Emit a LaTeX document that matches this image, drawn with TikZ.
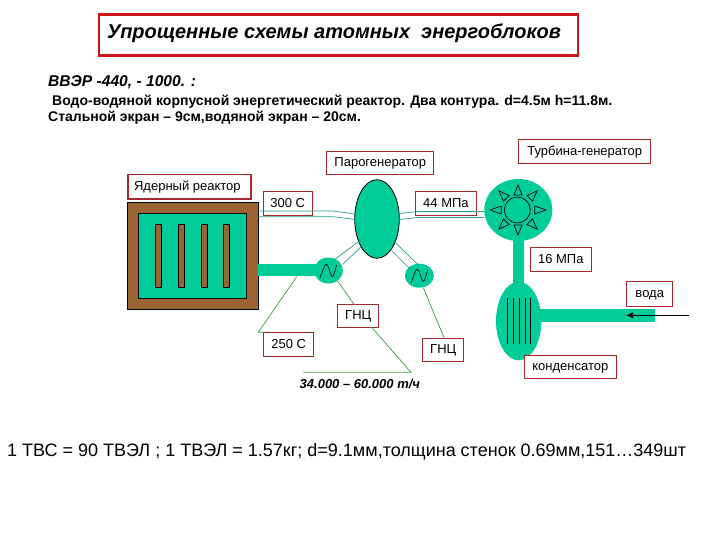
\documentclass[tikz,border=0pt]{standalone}
\usepackage{fontspec}
\setmainfont{Liberation Sans}
\usetikzlibrary{arrows.meta,calc,shapes.geometric}
\definecolor{teal1}{HTML}{00CC99}
\definecolor{brn}{HTML}{996633}
\definecolor{boxred}{HTML}{A5282C}
\definecolor{titlered}{HTML}{CC1518}
\definecolor{pipeline}{HTML}{2E9C90}
\definecolor{grn}{HTML}{3C9A3C}
\tikzset{
 lbl/.style={draw=boxred,line width=0.9pt,fill=white,inner sep=0pt,text height=9.5pt,text depth=2.5pt,font=\fontsize{13}{15}\selectfont},
 body/.style={draw=black,line width=0.8pt,fill=teal1},
 blob/.style={fill=teal1,draw=none},
 rod/.style={draw=black,line width=0.7pt,fill=brn},
 thin pipe/.style={draw=pipeline,line width=0.7pt},
 lead/.style={draw=grn,line width=0.7pt},
 blade/.style={draw=black,line width=0.7pt},
 plain/.style={inner sep=0pt,anchor=west}
}
\newcommand{\boxat}[6]{\node[lbl,minimum width=#4 pt-#2 pt,minimum height=#5 pt-#3 pt,anchor=north west] (#1) at (#2,#3) {#6};}
\begin{document}
\begin{tikzpicture}[x=1pt,y=-1pt]
\useasboundingbox (0,0) rectangle (720,540);
% title
\node[draw=titlered,line width=2.2pt,minimum width=479pt,minimum height=41pt,inner sep=0pt,anchor=north west] (title) at (98,13.5) {};
\node[plain,font=\fontsize{20}{23}\selectfont\bfseries\itshape] (titletext) at (107,33) {Упрощенные схемы атомных \ энергоблоков};
\node[plain,font=\fontsize{15.6}{18}\selectfont\bfseries\itshape] (t1) at (48,82.5) {ВВЭР -440, - 1000. :};
\node[plain,font=\fontsize{14}{16}\selectfont\bfseries] (t2) at (52,101.5) {Водо-водяной корпусной энергетический реактор. Два контура. d=4.5м h=11.8м.};
\node[plain,font=\fontsize{14}{16}\selectfont\bfseries] (t3) at (48,118) {Стальной экран – 9см,водяной экран – 20см.};
% labels
\boxat{l300}{262.7}{191.3}{311.7}{215.3}{300 C}
\boxat{l44}{415.3}{191.3}{475.7}{215.3}{44 МПа}
\boxat{lpg}{326.3}{150.7}{433.3}{174.3}{Парогенератор}
\boxat{ltg}{518.3}{139.3}{650.3}{163.3}{Турбина-генератор}
\node[lbl,line width=1.5pt,minimum width=122.7pt,minimum height=24.6pt,anchor=north west] (lyr) at (127.3,173.7) {Ядерный реактор\hspace*{4pt}};
% reactor
\draw[draw=black,line width=0.8pt,fill=brn] (127.3,202) rectangle (258,309);
\draw[body] (138.3,213.3) rectangle (246.7,298.3);
\draw[rod] (155.3,224.3) rectangle (161.7,287.3);
\draw[rod] (178.3,224.3) rectangle (184.7,287.3);
\draw[rod] (201.3,224.3) rectangle (207.7,287.3);
\draw[rod] (223.3,224.3) rectangle (229.7,287.3);
% pipes and vessels
\node[blob,minimum width=59pt,minimum height=12pt,inner sep=0pt,anchor=west] (hot) at (258,270) {};
\node[blob,ellipse,minimum width=29pt,minimum height=26pt,inner sep=0pt] (p1) at (328.5,270.5) {};
\node[blob,ellipse,minimum width=29pt,minimum height=24pt,inner sep=0pt] (p2) at (419.3,275.7) {};
\fill[teal1] (513.3,235) rectangle (524.3,290);
\fill[teal1] (518.3,210) ellipse (34 and 31);
\fill[teal1] (518.7,321) ellipse (22.7 and 39.3);
\fill[teal1] (535,309) rectangle (655,321.7);
\draw[body] (377,219) ellipse (22.3 and 39.3);
% steam lines
\coordinate (rA) at (258,211); \coordinate (rB) at (258,216.7);
\coordinate (sgA) at (355,214); \coordinate (sgB) at (355,219.5);
\coordinate (sgC) at (399,213.5); \coordinate (sgD) at (399,219.5);
\coordinate (tA) at (484,211.5); \coordinate (tB) at (484,217.5);
\draw[thin pipe] (rA) -- (333,211) -- (sgA);
\draw[thin pipe] (rB) -- (333,216.7) -- (sgB);
\draw[thin pipe] (sgC) -- (418,211.5) -- (tA);
\draw[thin pipe] (sgD) -- (418,217.5) -- (tB);
\draw[thin pipe] (360.7,240) -- (335,259.3);
\draw[thin pipe] (360.7,247.3) -- (342.7,264.3);
\draw[thin pipe] (391.7,250.7) -- (411,270);
\draw[thin pipe] (396,243.3) -- (418.3,265);
% pumps' sine
\draw[black,line width=0.6pt,line join=round] (320,277.7) -- (324.5,266) .. controls (325.5,263.5) and (327,263.5) .. (328,266) -- (331,275) .. controls (331.8,277) and (332.8,277) .. (333.6,275) -- (336.7,265);
\draw[black,line width=0.6pt,line join=round] (411,283) -- (415.5,271) .. controls (416.5,268.5) and (418,268.5) .. (419,271) -- (422,280) .. controls (422.8,282) and (423.8,282) .. (424.6,280) -- (427.7,270);
% turbine
\draw[black,line width=0.7pt] (517.3,210) circle (13);
\foreach \a/\rb/\ra in {0/15/25,45/16.5/27,90/16.7/28,135/16.5/27,180/15/25,225/16.5/27,270/16.7/28,315/16.5/27}{
  \draw[blade,rotate around={\a:(518,210)}] (518,210-\ra) -- (514,210-\rb) -- (522,210-\rb) -- cycle;
}
% condenser tubes
\foreach \x in {507.3,513.3,519,525,530.7}{\draw[black,line width=0.7pt] (\x,298.3) -- (\x,344);}
% water arrow
\coordinate (wIn) at (689.3,315.3); \coordinate (wEnd) at (626,315.3);
\draw[black,line width=0.7pt,-{Latex[length=7pt,width=6pt]}] (wIn) -- (wEnd);
% remaining labels
\boxat{l16}{530}{247.3}{590.7}{271.3}{16 МПа}
\boxat{lw}{626.3}{281.3}{672.3}{306.3}{вода}
\boxat{lc}{524}{355.3}{615.7}{378.3}{конденсатор}
\boxat{lg1}{337.3}{304.3}{378.3}{327.3}{ГНЦ}
\boxat{lg2}{422.3}{338.3}{463.3}{361.3}{ГНЦ}
\boxat{l250}{263.3}{332.3}{313.3}{356.3}{250 C}
% leads
\draw[lead] (296.7,276.7) -- (258.3,332.3) -- (l250.north west);
\draw[lead] (337.3,280.7) -- (354,304.3);
\draw[lead] (371.7,327.3) -- (411,372.3) -- (303.3,372.3);
\draw[lead] (423.3,287.7) -- (444.3,338.3);
\node[plain,font=\fontsize{13}{15}\selectfont\bfseries\itshape] (flow) at (299.5,384) {34.000 – 60.000 т/ч};
\node[plain,font=\fontsize{18}{21}\selectfont] (bottom) at (7,452) {1 ТВС = 90 ТВЭЛ ; 1 ТВЭЛ = 1.57кг; d=9.1мм,толщина стенок 0.69мм,151…349шт};
\end{tikzpicture}
\end{document}
